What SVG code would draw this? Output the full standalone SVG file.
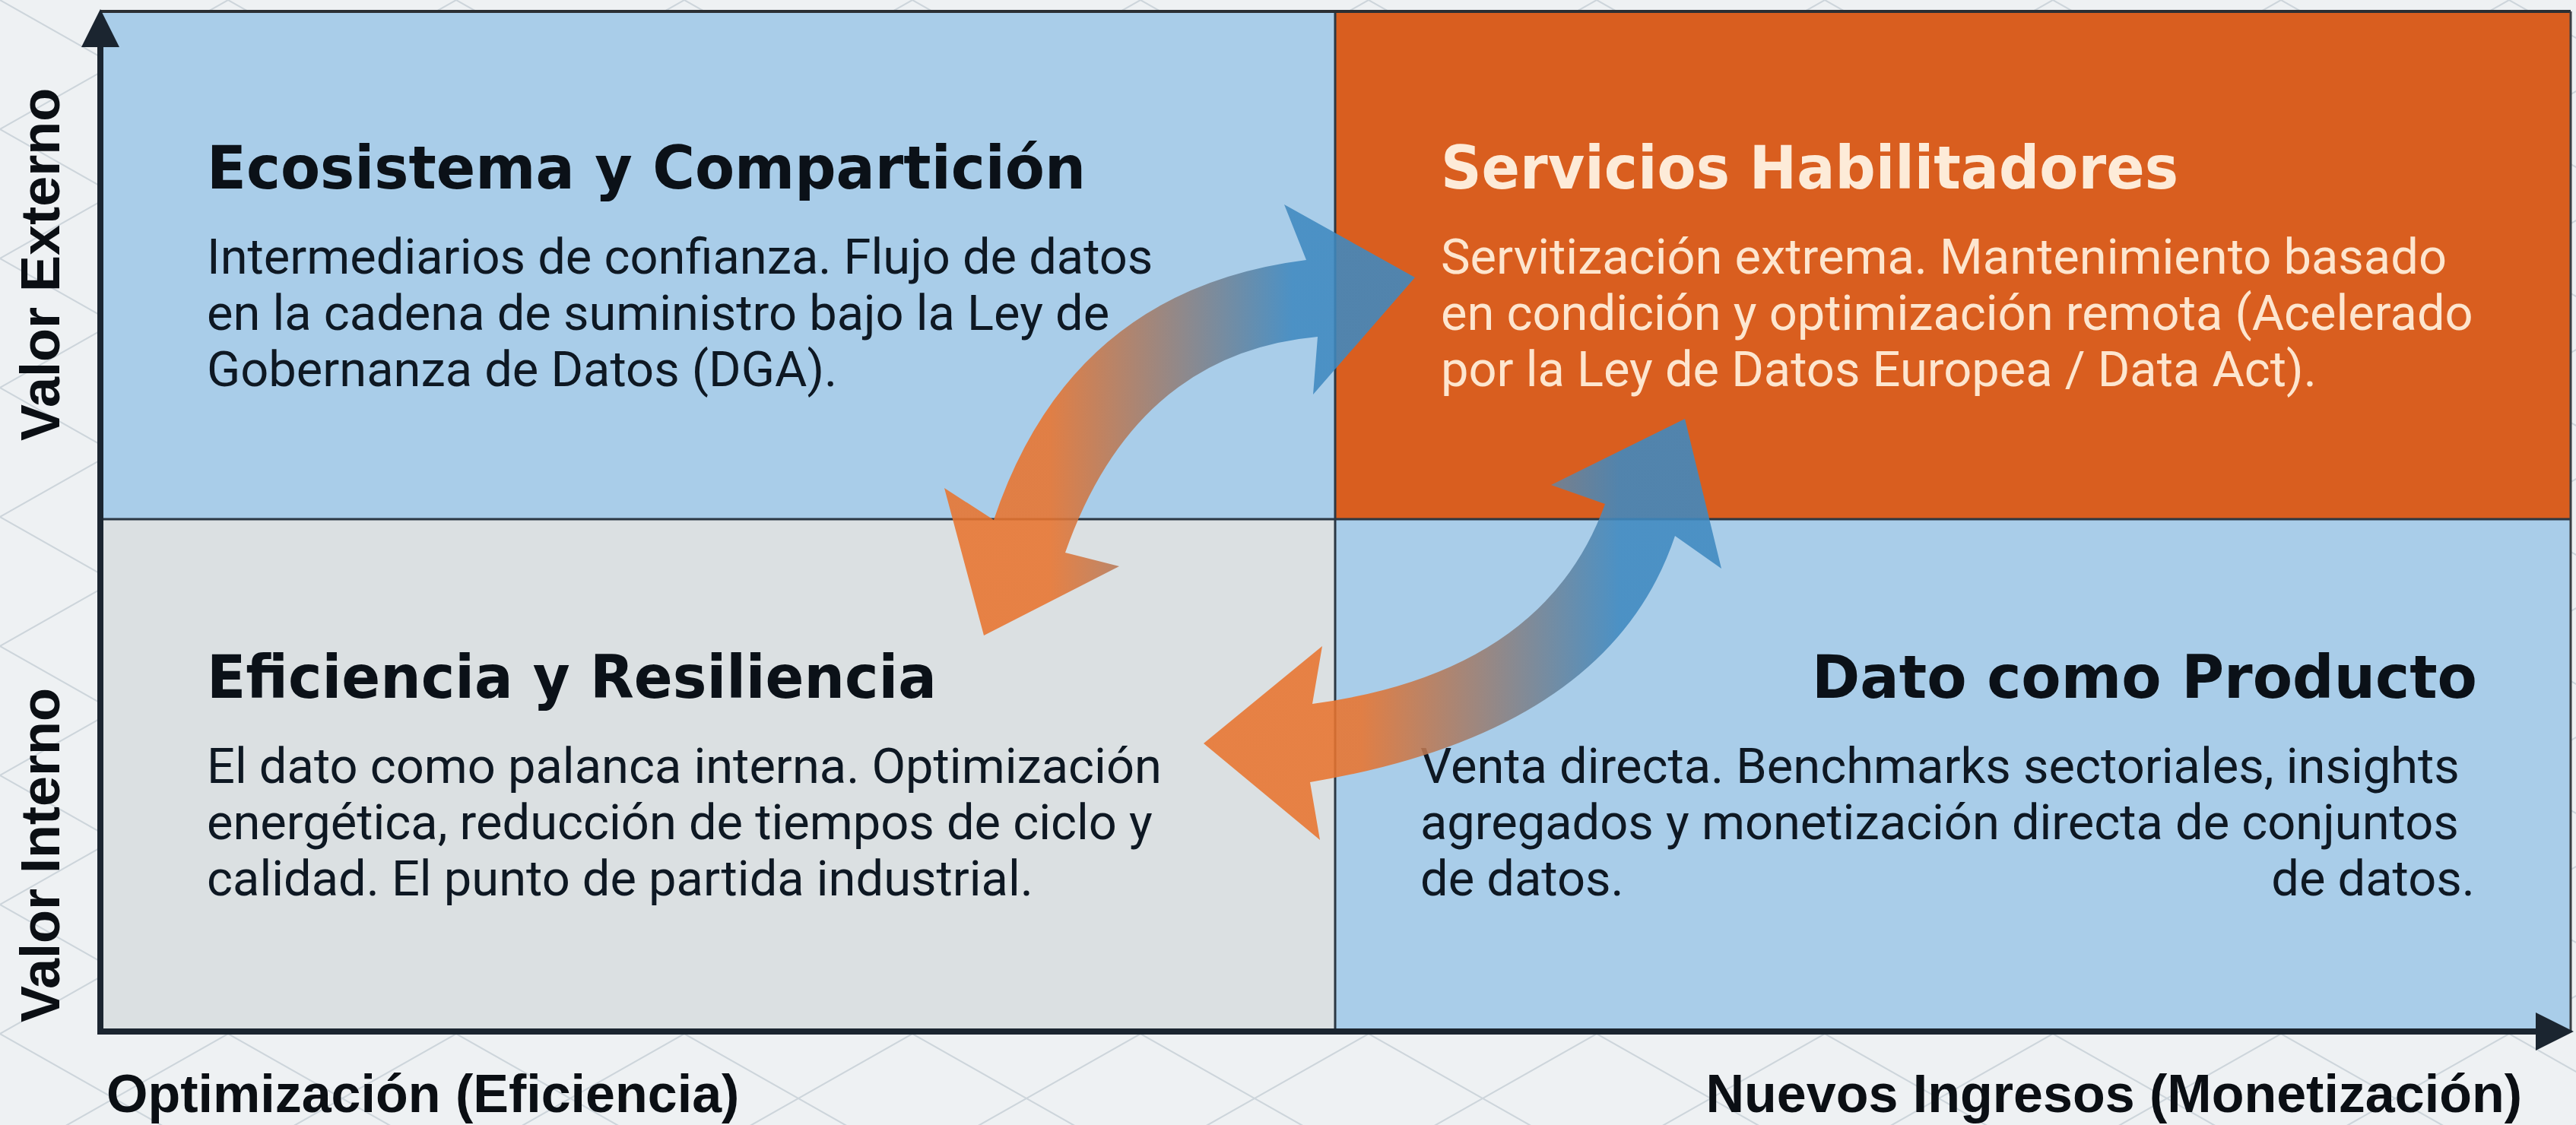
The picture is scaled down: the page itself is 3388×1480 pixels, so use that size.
<svg xmlns="http://www.w3.org/2000/svg" width="3388" height="1480" viewBox="0 0 3388 1480">
<defs>
<style>
.title{font-family:"DejaVu Sans","Liberation Sans",sans-serif;font-weight:700;font-size:78px;fill:#0b1118}
.title-light{fill:#fdebd8}
.body{font-family:Roboto,"Liberation Sans",sans-serif;font-size:65px;fill:#0e1823}
.body-light{fill:#fde6cf}
.axis-label{font-family:"Liberation Sans",Arial,sans-serif;font-weight:700;font-size:70px;fill:#0b0f14}
.axis-v{font-family:"Liberation Sans",Arial,sans-serif;font-weight:700;font-size:72px;fill:#0b0f14}
.q-blue{fill:#a9cde9}
.q-orange{fill:#d95e1f}
.q-gray{fill:#dbe0e2}
.divider{stroke:#2b3743;stroke-width:3;fill:none}
.axis{stroke:#1b2530;stroke-width:8;fill:none}
.axis-head{fill:#1b2530}
.arrow{opacity:0.88}
</style>
<pattern id="bgGrid" patternUnits="userSpaceOnUse" width="300" height="170">
<path d="M0,0 L300,170 M0,170 L300,0" stroke="#cdd5db" stroke-width="2" fill="none"/>
</pattern>
<linearGradient id="grad1" gradientUnits="userSpaceOnUse" x1="1380" y1="0" x2="1700" y2="0">
<stop offset="0" stop-color="#e8742f"/>
<stop offset="1" stop-color="#3f89c0"/>
</linearGradient>
<linearGradient id="grad2" gradientUnits="userSpaceOnUse" x1="1790" y1="0" x2="2130" y2="0">
<stop offset="0" stop-color="#e8742f"/>
<stop offset="1" stop-color="#3f89c0"/>
</linearGradient>
</defs>

<rect x="0" y="0" width="3388" height="1480" fill="#eef1f3"/>
<rect x="0" y="0" width="3388" height="1480" fill="url(#bgGrid)"/>

<g id="quadrant-ecosistema">
<rect class="q-blue" x="132" y="15" width="1624" height="668"/>
<text class="title" x="272" y="248" textLength="1156" lengthAdjust="spacingAndGlyphs">Ecosistema y Compartición</text>
<text class="body" x="272" y="360">Intermediarios de confianza. Flujo de datos</text>
<text class="body" x="272" y="434">en la cadena de suministro bajo la Ley de</text>
<text class="body" x="272" y="508">Gobernanza de Datos (DGA).</text>
</g>

<g id="quadrant-servicios">
<rect class="q-orange" x="1756" y="15" width="1625" height="668"/>
<text class="title title-light" x="1895" y="248" textLength="970" lengthAdjust="spacingAndGlyphs">Servicios Habilitadores</text>
<text class="body body-light" x="1895" y="360">Servitización extrema. Mantenimiento basado</text>
<text class="body body-light" x="1895" y="434">en condición y optimización remota (Acelerado</text>
<text class="body body-light" x="1895" y="508">por la Ley de Datos Europea / Data Act).</text>
</g>

<g id="quadrant-eficiencia">
<rect class="q-gray" x="132" y="683" width="1624" height="674"/>
<text class="title" x="272" y="918" textLength="960" lengthAdjust="spacingAndGlyphs">Eficiencia y Resiliencia</text>
<text class="body" x="272" y="1030">El dato como palanca interna. Optimización</text>
<text class="body" x="272" y="1104">energética, reducción de tiempos de ciclo y</text>
<text class="body" x="272" y="1178">calidad. El punto de partida industrial.</text>
</g>

<g id="quadrant-producto">
<rect class="q-blue" x="1756" y="683" width="1625" height="674"/>
<text class="title" x="3258" y="918" text-anchor="end" textLength="875" lengthAdjust="spacingAndGlyphs">Dato como Producto</text>
<text class="body" x="1868" y="1030">Venta directa. Benchmarks sectoriales, insights</text>
<text class="body" x="1868" y="1104">agregados y monetización directa de conjuntos</text>
<text class="body" x="1868" y="1178">de datos.</text>
<text class="body" x="3255" y="1178" text-anchor="end">de datos.</text>
</g>

<g id="frame">
<line class="divider" x1="1756" y1="15" x2="1756" y2="1357"/>
<line class="divider" x1="132" y1="683" x2="3381" y2="683"/>
<line x1="132" y1="15" x2="3381" y2="15" stroke="#2b2f33" stroke-width="4"/>
<line x1="3381" y1="15" x2="3381" y2="1357" stroke="#3a3f44" stroke-width="3"/>
</g>

<g id="connectors">
<path class="arrow" fill="url(#grad1)" d="M1861,365 L1727,519 L1733,443 Q1493,465 1401,727 L1472,745 L1294,836 L1242,642 L1307,684 Q1408,381 1718,342 L1689,269 Z"/>
<path class="arrow" fill="url(#grad2)" d="M1583,978 L1739,850 L1726,926 Q2031,885 2111,663 L2040,638 L2216,551 L2264,748 L2203,705 Q2117,963 1723,1029 L1736,1105 Z"/>
</g>

<g id="axes">
<line class="axis" x1="132" y1="1361" x2="132" y2="50"/>
<polygon class="axis-head" points="132,12 107,62 157,62"/>
<line class="axis" x1="128" y1="1357" x2="3345" y2="1357"/>
<polygon class="axis-head" points="3385,1357 3335,1332 3335,1382"/>
<text class="axis-v" transform="translate(78,580) rotate(-90)">Valor Externo</text>
<text class="axis-v" transform="translate(78,1345) rotate(-90)">Valor Interno</text>
<text class="axis-label" x="140" y="1463">Optimización (Eficiencia)</text>
<text class="axis-label" x="3317" y="1463" text-anchor="end">Nuevos Ingresos (Monetización)</text>
</g>
</svg>
